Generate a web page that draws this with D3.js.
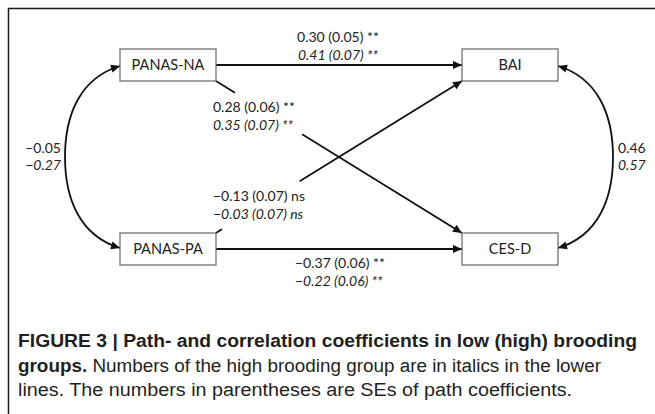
<!DOCTYPE html>
<html>
<head>
<meta charset="utf-8">
<script src="https://cdn.jsdelivr.net/npm/d3@7"></script>
<style>
  html, body { margin: 0; padding: 0; background: #fff; }
  svg { display: block; }
</style>
</head>
<body>
<div id="chart"></div>
<script>
// variables in the model: column 0 = predictors, column 1 = outcomes
const nodeNames = ["PANAS-NA", "PANAS-PA", "BAI", "CES-D"];
const nodeCols = [0, 0, 1, 1];
const nodeRows = [0, 1, 0, 1];

// path coefficients: low brooding (upper line), high brooding (lower line, italics)
const pathFrom = ["PANAS-NA", "PANAS-NA", "PANAS-PA", "PANAS-PA"];
const pathTo = ["BAI", "CES-D", "BAI", "CES-D"];
const pathLow = ["0.30 (0.05) **", "0.28 (0.06) **", "\u22120.13 (0.07) ns", "\u22120.37 (0.06) **"];
const pathHigh = ["0.41 (0.07) **", "0.35 (0.07) **", "\u22120.03 (0.07) ns", "\u22120.22 (0.06) **"];

// correlations
const corrA = ["PANAS-NA", "BAI"];
const corrB = ["PANAS-PA", "CES-D"];
const corrLow = ["\u22120.05", "0.46"];
const corrHigh = ["\u22120.27", "0.57"];

const captionBold1 = "FIGURE 3 | Path- and correlation coefficients in low (high) brooding";
const captionBold2 = "groups.";
const captionText2 = " Numbers of the high brooding group are in italics in the lower";
const captionText3 = "lines. The numbers in parentheses are SEs of path coefficients.";

const width = 655;
const height = 414;
const boxW = 96, boxH = 32;
const font = "Lato, 'Open Sans', sans-serif";

const svg = d3.select("#chart")
  .append("svg")
  .attr("width", width)
  .attr("height", height);

// page frame (top and left edge only)
svg.append("path")
  .attr("d", "M8.5,414 L8.5,8.5 L655,8.5")
  .attr("fill", "none")
  .attr("stroke", "#1a1a1a")
  .attr("stroke-width", 1.5);

const x = d3.scaleLinear().domain([0, 1]).range([168, 510]);
const y = d3.scaleLinear().domain([0, 1]).range([65, 249]);

const nodes = nodeNames.map((name, i) => ({ name, cx: x(nodeCols[i]), cy: y(nodeRows[i]) }));
const byName = {};
nodes.forEach(n => byName[n.name] = n);

// arrow head
svg.append("defs").append("marker")
  .attr("id", "arrow")
  .attr("viewBox", "0 -5 10 10")
  .attr("refX", 10)
  .attr("refY", 0)
  .attr("markerWidth", 5.5)
  .attr("markerHeight", 5)
  .attr("markerUnits", "strokeWidth")
  .attr("orient", "auto-start-reverse")
  .append("path")
  .attr("fill", "#111")
  .attr("d", "M0,-4.5L10,0L0,4.5Z");

const g = svg.append("g");

// path lines
const paths = pathFrom.map((f, i) => {
  const s = byName[f], t = byName[pathTo[i]];
  let x1 = s.cx + boxW / 2, x2 = t.cx - boxW / 2, y1, y2;
  if (s.cy === t.cy) { y1 = s.cy; y2 = t.cy; }
  else if (t.cy > s.cy) { y1 = s.cy + boxH / 2; y2 = t.cy - boxH / 2; }
  else { y1 = s.cy - boxH / 2; y2 = t.cy + boxH / 2; }
  return { i, x1, y1, x2, y2, low: pathLow[i], high: pathHigh[i] };
});

// gaps in the crossing lines where the labels sit (fraction of the length)
const gaps = [null, [0.077, 0.35], [0.024, 0.34], null];

paths.forEach(p => {
  const lerp = t => [p.x1 + (p.x2 - p.x1) * t, p.y1 + (p.y2 - p.y1) * t];
  const gap = gaps[p.i];
  if (gap) {
    const a = lerp(gap[0]), b = lerp(gap[1]);
    g.append("line")
      .attr("x1", p.x1).attr("y1", p.y1).attr("x2", a[0]).attr("y2", a[1])
      .attr("stroke", "#111").attr("stroke-width", 1.8);
    g.append("line")
      .attr("x1", b[0]).attr("y1", b[1]).attr("x2", p.x2).attr("y2", p.y2)
      .attr("stroke", "#111").attr("stroke-width", 1.8)
      .attr("marker-end", "url(#arrow)");
  } else {
    g.append("line")
      .attr("x1", p.x1).attr("y1", p.y1).attr("x2", p.x2).attr("y2", p.y2)
      .attr("stroke", "#111").attr("stroke-width", 1.8)
      .attr("marker-end", "url(#arrow)");
  }
});

// labels of the paths
const labelPos = [
  { x: 338, y: 42, anchor: "middle" },
  { x: 213, y: 112, anchor: "start" },
  { x: 213, y: 201, anchor: "start" },
  { x: 295, y: 268, anchor: "start" }
];
paths.forEach(p => {
  const lp = labelPos[p.i];
  const t = g.append("text")
    .attr("font-family", font)
    .attr("font-size", 14)
    .attr("fill", "#222")
    .attr("text-anchor", lp.anchor);
  t.append("tspan").attr("x", lp.x).attr("y", lp.y).text(p.low);
  t.append("tspan").attr("x", lp.x).attr("y", lp.y + 17.5).attr("font-style", "italic").text(p.high);
});

// correlation curves
corrA.forEach((a, i) => {
  const s = byName[a], t = byName[corrB[i]];
  const dir = s.cx < width / 2 ? -1 : 1;
  const ex = s.cx + dir * boxW / 2;
  const bulge = ex + dir * 55;
  const y1 = s.cy + 1, y2 = t.cy - 1, ym = (y1 + y2) / 2;
  const d = `M${ex},${y1} C${ex + dir * 40},${y1 + 12} ${bulge},${y1 + 49} ${bulge},${ym}` +
    ` C${bulge},${y2 - 49} ${ex + dir * 40},${y2 - 12} ${ex},${y2}`;
  g.append("path")
    .attr("d", d)
    .attr("fill", "none")
    .attr("stroke", "#111")
    .attr("stroke-width", 1.8)
    .attr("marker-start", "url(#arrow)")
    .attr("marker-end", "url(#arrow)");

  const t2 = g.append("text")
    .attr("font-family", font)
    .attr("font-size", 14)
    .attr("fill", "#222")
    .attr("text-anchor", dir < 0 ? "end" : "start");
  const tx = dir < 0 ? bulge - 4 : bulge + 5;
  t2.append("tspan").attr("x", tx).attr("y", ym - 4).text(corrLow[i]);
  t2.append("tspan").attr("x", tx).attr("y", ym + 13).attr("font-style", "italic").text(corrHigh[i]);
});

// boxes
const node = g.append("g")
  .selectAll("g")
  .data(nodes)
  .join("g")
  .attr("transform", d => `translate(${d.cx},${d.cy})`);

node.append("rect")
  .attr("x", -boxW / 2)
  .attr("y", -boxH / 2)
  .attr("width", boxW)
  .attr("height", boxH)
  .attr("fill", "#fff")
  .attr("stroke", "#666")
  .attr("stroke-width", 1.2);

node.append("text")
  .text(d => d.name)
  .attr("text-anchor", "middle")
  .attr("dy", "0.36em")
  .attr("font-family", font)
  .attr("font-size", 14.5)
  .attr("fill", "#222");

// caption (condensed grotesque: Liberation Sans squeezed to the original widths)
const capFont = "'Liberation Sans', Arial, sans-serif";
const cap = svg.append("g")
  .attr("font-family", capFont)
  .attr("font-size", 18)
  .attr("fill", "#231f20");

cap.append("text")
  .attr("x", 18).attr("y", 347)
  .attr("font-weight", "bold")
  .attr("textLength", 619)
  .attr("lengthAdjust", "spacingAndGlyphs")
  .text(captionBold1);

const l2 = cap.append("text")
  .attr("x", 18).attr("y", 372)
  .attr("textLength", 583)
  .attr("lengthAdjust", "spacingAndGlyphs");
l2.append("tspan").attr("font-weight", "bold").text(captionBold2);
l2.append("tspan").text(captionText2);

cap.append("text")
  .attr("x", 18).attr("y", 396)
  .attr("textLength", 554)
  .attr("lengthAdjust", "spacingAndGlyphs")
  .text(captionText3);
</script>
</body>
</html>
